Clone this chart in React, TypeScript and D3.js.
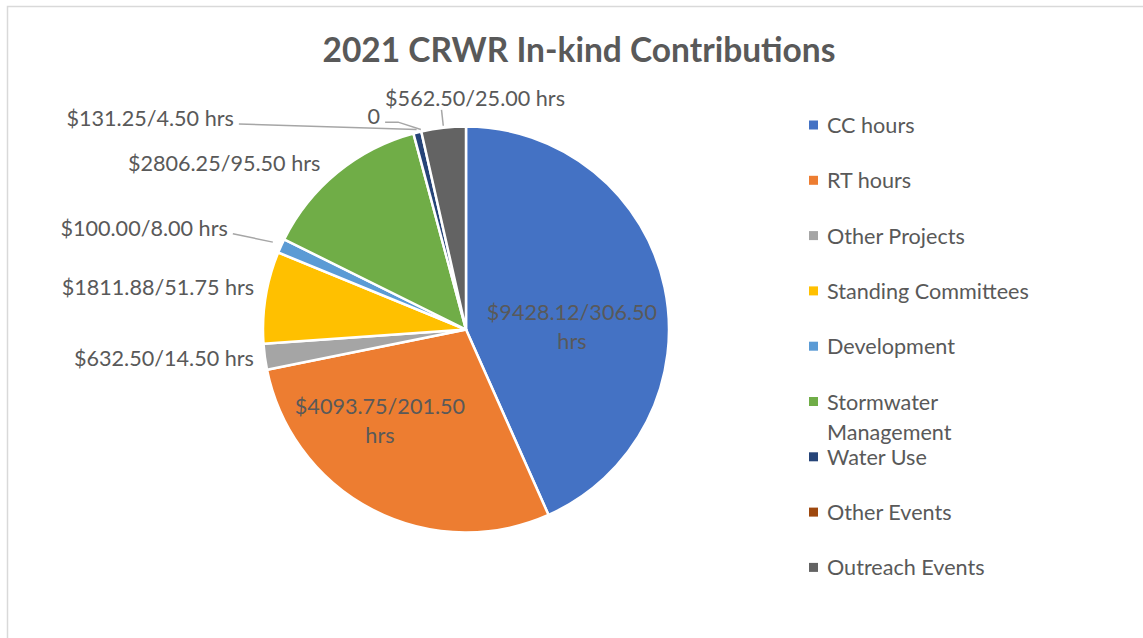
import React from 'react';
import * as d3 from 'd3';

const title = '2021 CRWR In-kind Contributions';
const categories = [
  'CC hours',
  'RT hours',
  'Other Projects',
  'Standing Committees',
  'Development',
  'Stormwater Management',
  'Water Use',
  'Other Events',
  'Outreach Events',
];
const hours = [306.5, 201.5, 14.5, 51.75, 8, 95.5, 4.5, 0, 25];
const dollars = [9428.12, 4093.75, 632.5, 1811.88, 100, 2806.25, 131.25, 0, 562.5];
const legendLines = [
  ['CC hours'],
  ['RT hours'],
  ['Other Projects'],
  ['Standing Committees'],
  ['Development'],
  ['Stormwater', 'Management'],
  ['Water Use'],
  ['Other Events'],
  ['Outreach Events'],
];
const colors = ['#4472C4', '#ED7D31', '#A5A5A5', '#FFC000', '#5B9BD5', '#70AD47', '#264478', '#9E480E', '#636363'];

// label layout (polar, relative to slice mid-angle)
type LabelCfg = { r: number; dA: number; anchor: 'start' | 'middle' | 'end'; inside?: boolean; leader?: 'line' | 'elbow' | 'radial'; leaderR?: number };
const labelCfg: LabelCfg[] = [
  { r: 106, dA: 10.6, anchor: 'middle', inside: true },
  { r: 125, dA: 16.2, anchor: 'middle', inside: true },
  { r: 214, dA: 0, anchor: 'end' },
  { r: 216, dA: 2.2, anchor: 'end' },
  { r: 259, dA: -1.2, anchor: 'end', leader: 'line', leaderR: 212 },
  { r: 221, dA: -1.9, anchor: 'end' },
  { r: 314, dA: -33.8, anchor: 'end', leader: 'line', leaderR: 206 },
  { r: 230, dA: -9.2, anchor: 'end', leader: 'elbow', leaderR: 205 },
  { r: 232, dA: 8.6, anchor: 'middle', leader: 'radial', leaderR: 205 },
];

const W = 1143;
const H = 638;
const cx = 466;
const cy = 329.5;
const R = 203;
const FONT = 'Lato, "Open Sans", sans-serif';
const TEXT = '#595959';
const FS = 21.6;

const fmt = (d: number, h: number) => (d === 0 ? '0' : `$${d.toFixed(2)}/${h.toFixed(2)} hrs`);

export default function App() {
  const data = categories.map((c, i) => ({ c, h: hours[i], d: dollars[i], i }));
  const pie = d3.pie<any>().sort(null).value((d) => d.h).startAngle(0).endAngle(2 * Math.PI);
  const arcs = pie(data);
  const arc = d3.arc<any>().innerRadius(0).outerRadius(R);
  const polar = (a: number, r: number): [number, number] => [cx + r * Math.sin(a), cy - r * Math.cos(a)];
  const toRad = (deg: number) => (deg * Math.PI) / 180;

  const legendY = d3.scaleLinear().domain([0, 1]).range([125, 125 + 55.3]);

  return (
    <div style={{ position: 'fixed', left: 0, top: 0 }}>
      <svg width={W} height={H} style={{ display: 'block', background: '#fff' }}>
        <rect x={7.5} y={6.5} width={W + 50} height={H + 50} fill="#fff" stroke="#d9d9d9" strokeWidth={1.5} />
        <text x={579} y={62} textAnchor="middle" fontFamily={FONT} fontWeight={700} fontSize={33.5} fill={TEXT}>
          {title}
        </text>
        <g transform={`translate(${cx},${cy})`}>
          {arcs.map((a, i) =>
            a.endAngle - a.startAngle > 0 ? (
              <path key={i} d={arc(a) as string} fill={colors[i]} stroke="#fff" strokeWidth={2.5} strokeLinejoin="round" />
            ) : null
          )}
        </g>
        {arcs.map((a, i) => {
          const cfg = labelCfg[i];
          const mid = (a.startAngle + a.endAngle) / 2;
          const [lx, ly] = polar(mid + toRad(cfg.dA), cfg.r);
          const label = fmt(a.data.d, a.data.h);
          const els: any[] = [];
          if (cfg.inside) {
            const parts = label.split(' hrs');
            const lines = [parts[0], 'hrs'];
            lines.forEach((t, k) =>
              els.push(
                <text key={`t${k}`} x={lx} y={ly + (k - 0.5) * 29} textAnchor="middle" dominantBaseline="central" fontFamily={FONT} fontSize={FS} fill={TEXT}>
                  {t}
                </text>
              )
            );
          } else {
            els.push(
              <text key="t" x={lx} y={ly} textAnchor={cfg.anchor} dominantBaseline="central" fontFamily={FONT} fontSize={FS} fill={TEXT}>
                {label}
              </text>
            );
          }
          if (cfg.leader) {
            const [px, py] = polar(mid, cfg.leaderR!);
            let d = '';
            if (cfg.leader === 'line') d = `M${lx + 5},${ly + 6}L${px},${py}`;
            else if (cfg.leader === 'elbow') d = `M${lx + 5},${ly + 6}H${lx + 18}L${px},${py}`;
            else {
              const [qx, qy] = polar(mid, R + 18);
              const [sx, sy] = polar(mid, R + 2);
              d = `M${qx},${qy}L${sx},${sy}`;
            }
            els.push(<path key="l" d={d} fill="none" stroke="#a6a6a6" strokeWidth={1.5} />);
          }
          return <g key={i}>{els}</g>;
        })}
        {legendLines.map((lines, i) => {
          const y = legendY(i);
          return (
            <g key={i}>
              <rect x={809} y={y - 4.5} width={9} height={9} fill={colors[i]} />
              {lines.map((t, k) => (
                <text key={k} x={827} y={y + k * 30} dominantBaseline="central" fontFamily={FONT} fontSize={FS} fill={TEXT}>
                  {t}
                </text>
              ))}
            </g>
          );
        })}
      </svg>
    </div>
  );
}
